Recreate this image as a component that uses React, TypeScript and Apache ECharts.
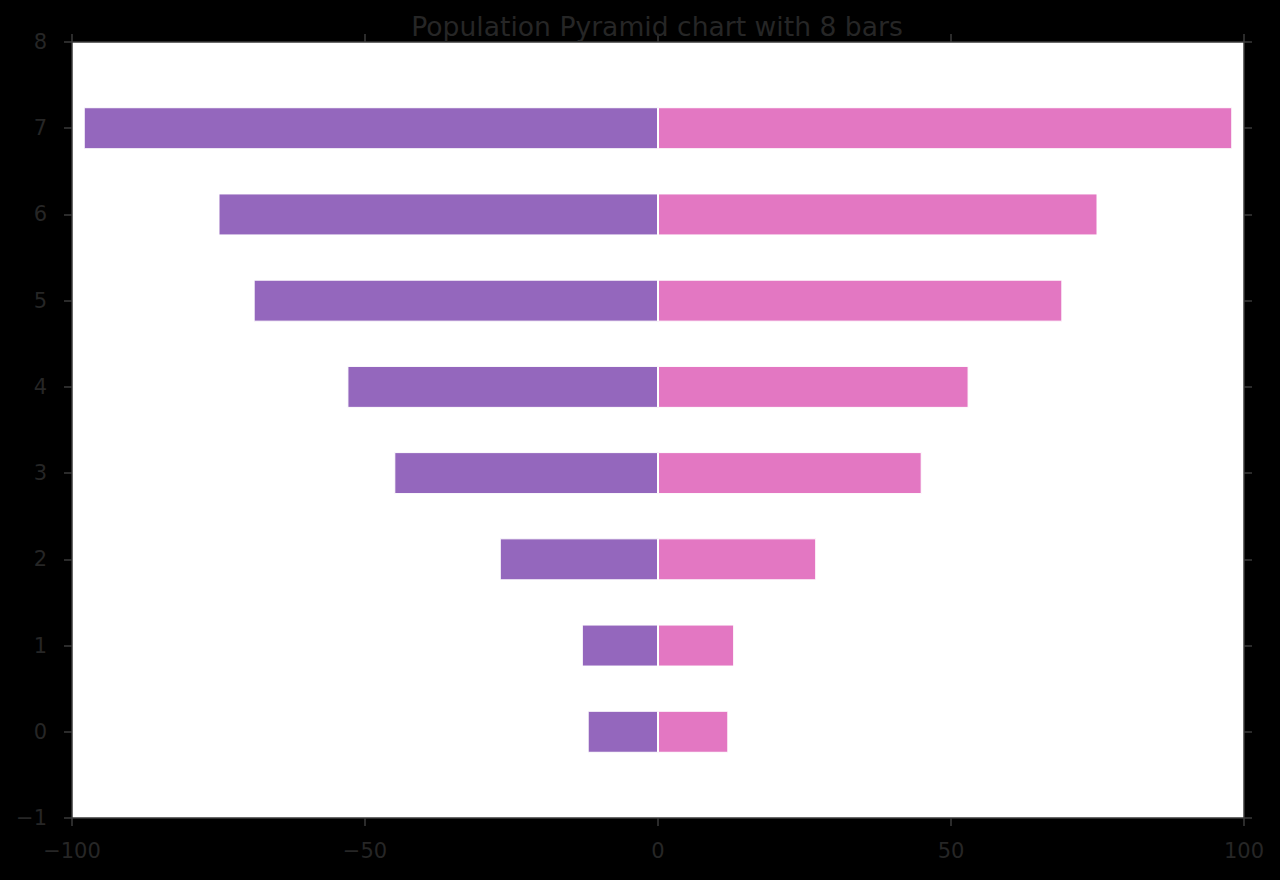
import React, { useEffect, useRef } from "react";
import * as echarts from "echarts";

const titleText = "Population Pyramid chart with 8 bars";
const yTickLabels = ["−1", "0", "1", "2", "3", "4", "5", "6", "7", "8"];
const leftValues = [null, -12, -13, -27, -45, -53, -69, -75, -98, null];
const rightValues = [null, 12, 13, 27, 45, 53, 69, 75, 98, null];
const xMin = -100;
const xMax = 100;
const xInterval = 50;

const FONT = "DejaVu Sans";
const TEXT_COLOR = "#262626";
const SPINE = "#3a3a3a";

export default function App() {
  const ref = useRef<HTMLDivElement>(null);
  useEffect(() => {
    if (!ref.current) return;
    const chart = echarts.init(ref.current, null, { renderer: "svg" });
    const fmt = (v: number) => String(v).replace("-", "−");
    const tick = { show: true, inside: false, length: 8, lineStyle: { color: SPINE, width: 1.5 } };
    const line = { show: true, onZero: false, lineStyle: { color: SPINE, width: 1.5 } };
    chart.setOption({
      animation: false,
      backgroundColor: "#000000",
      title: {
        text: titleText,
        left: 652,
        textAlign: "center",
        top: 8,
        textStyle: { fontFamily: FONT, fontSize: 26.6, fontWeight: "normal", color: TEXT_COLOR },
      },
      grid: {
        left: 72,
        right: 36,
        top: 42,
        bottom: 62,
        show: true,
        backgroundColor: "#ffffff",
        borderWidth: 0,
      },
      xAxis: [
        {
          type: "value",
          min: xMin,
          max: xMax,
          interval: xInterval,
          position: "bottom",
          axisLine: line,
          axisTick: tick,
          splitLine: { show: false },
          axisLabel: { formatter: fmt, fontFamily: FONT, fontSize: 21, color: TEXT_COLOR, margin: 22 },
        },
        {
          type: "value",
          min: xMin,
          max: xMax,
          interval: xInterval,
          position: "top",
          axisLine: line,
          axisTick: tick,
          splitLine: { show: false },
          axisLabel: { show: false },
        },
      ],
      yAxis: [
        {
          type: "category",
          data: yTickLabels,
          boundaryGap: false,
          position: "left",
          axisLine: line,
          axisTick: { ...tick, alignWithLabel: true },
          splitLine: { show: false },
          axisLabel: { fontFamily: FONT, fontSize: 21, color: TEXT_COLOR, margin: 25 },
        },
        {
          type: "category",
          data: yTickLabels,
          boundaryGap: false,
          position: "right",
          axisLine: line,
          axisTick: { ...tick, alignWithLabel: true },
          splitLine: { show: false },
          axisLabel: { show: false },
        },
      ],
      series: [
        {
          type: "bar",
          name: "left",
          data: leftValues,
          barWidth: 42,
          barGap: "-100%",
          itemStyle: { color: "#9467bd", borderColor: "#ffffff", borderWidth: 1 },
        },
        {
          type: "bar",
          name: "right",
          data: rightValues,
          barWidth: 42,
          barGap: "-100%",
          itemStyle: { color: "#e377c2", borderColor: "#ffffff", borderWidth: 1 },
        },
      ],
    });
    return () => chart.dispose();
  }, []);
  return (
    <div
      ref={ref}
      style={{ position: "fixed", left: 0, top: 0, width: 1280, height: 880, background: "#000" }}
    />
  );
}
